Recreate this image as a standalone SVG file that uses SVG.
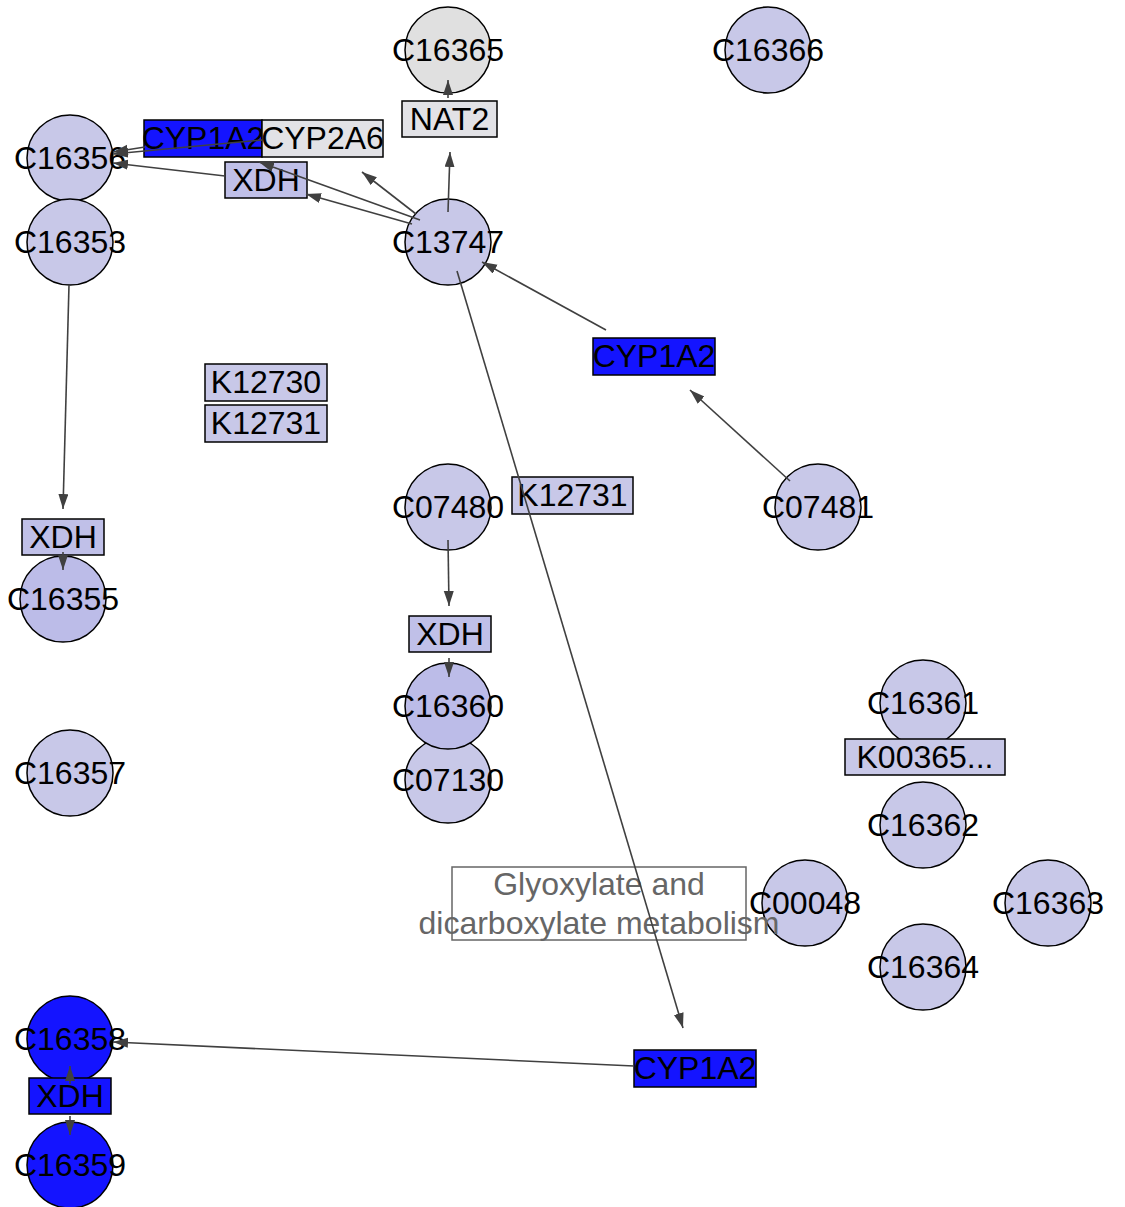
<svg xmlns="http://www.w3.org/2000/svg" width="1125" height="1207" viewBox="0 0 1125 1207">
<style>
text{font-family:"Liberation Sans",Arial,sans-serif;font-size:32px;fill:#000;text-anchor:middle}
.c{fill:#c8c8e8;stroke:#000;stroke-width:1.5}
.cd{fill:#bcbce8;stroke:#000;stroke-width:1.5}
.cg{fill:#e0e0e0;stroke:#000;stroke-width:1.5}
.cb{fill:#1414ff;stroke:#000;stroke-width:1.5}
.r{fill:#c8c8e8;stroke:#000;stroke-width:1.5}
.rd{fill:#c0c0e8;stroke:#000;stroke-width:1.5}
.rg{fill:#e2e2e6;stroke:#000;stroke-width:1.5}
.rb{fill:#1414ff;stroke:#000;stroke-width:1.5}
.e{stroke:#404040;stroke-width:1.6;fill:none;marker-end:url(#ah)}
.lbl{fill:#666}
</style>
<defs>
<marker id="ah" markerUnits="userSpaceOnUse" markerWidth="16" markerHeight="11" refX="15" refY="5" orient="auto">
<path d="M0,0 L15,5 L0,10 z" fill="#404040"/>
</marker>
</defs>
<rect width="1125" height="1207" fill="#fff"/>
<g id="nodes">
<g id="C16365"><circle class="cg" cx="448" cy="50" r="43"/><text x="448" y="61">C16365</text></g>
<g id="C16366"><circle class="c" cx="768" cy="50" r="43"/><text x="768" y="61">C16366</text></g>
<g id="C16356"><circle class="c" cx="70" cy="158" r="43"/><text x="70" y="169">C16356</text></g>
<g id="C16353"><circle class="c" cx="70" cy="242" r="43"/><text x="70" y="253">C16353</text></g>
<g id="C13747"><circle class="c" cx="448" cy="242" r="43"/><text x="448" y="253">C13747</text></g>
<g id="NAT2"><rect class="rg" x="402" y="101" width="95" height="36"/><text x="449.5" y="130">NAT2</text></g>
<g id="CYP1A2_a"><rect class="rb" x="144" y="120" width="118" height="37"/><text x="203" y="149">CYP1A2</text></g>
<g id="CYP2A6"><rect class="rg" x="262" y="120" width="121" height="37"/><text x="322.5" y="149">CYP2A6</text></g>
<g id="XDH_a"><rect class="rd" x="225" y="162" width="82" height="36"/><text x="266" y="191">XDH</text></g>
<g id="CYP1A2_b"><rect class="rb" x="593" y="338" width="122" height="37"/><text x="654" y="367">CYP1A2</text></g>
<g id="K12730"><rect class="r" x="205" y="364" width="122" height="37"/><text x="266" y="393">K12730</text></g>
<g id="K12731_a"><rect class="r" x="205" y="405" width="122" height="37"/><text x="266" y="434">K12731</text></g>
<g id="C07480"><circle class="c" cx="448" cy="507" r="43"/><text x="448" y="518">C07480</text></g>
<g id="K12731_b"><rect class="r" x="512" y="477" width="121" height="37"/><text x="572.5" y="506">K12731</text></g>
<g id="C07481"><circle class="c" cx="818" cy="507" r="43"/><text x="818" y="518">C07481</text></g>
<g id="XDH_b"><rect class="rd" x="22" y="519" width="82" height="36"/><text x="63" y="548">XDH</text></g>
<g id="C16355"><circle class="cd" cx="63" cy="599" r="43"/><text x="63" y="610">C16355</text></g>
<g id="XDH_c"><rect class="rd" x="409" y="616" width="82" height="36"/><text x="450" y="645">XDH</text></g>
<g id="C07130"><circle class="c" cx="448" cy="780" r="43"/><text x="448" y="791">C07130</text></g>
<g id="C16360"><circle class="cd" cx="448" cy="706" r="43"/><text x="448" y="717">C16360</text></g>
<g id="C16357"><circle class="c" cx="70" cy="773" r="43"/><text x="70" y="784">C16357</text></g>
<g id="C16361"><circle class="c" cx="923" cy="703" r="43"/><text x="923" y="714">C16361</text></g>
<g id="K00365"><rect class="r" x="845" y="739" width="160" height="36"/><text x="925" y="768">K00365...</text></g>
<g id="C16362"><circle class="c" cx="923" cy="825" r="43"/><text x="923" y="836">C16362</text></g>
<g id="C00048"><circle class="c" cx="805" cy="903" r="43"/><text x="805" y="914">C00048</text></g>
<g id="C16363"><circle class="c" cx="1048" cy="903" r="43"/><text x="1048" y="914">C16363</text></g>
<g id="C16364"><circle class="c" cx="923" cy="967" r="43"/><text x="923" y="978">C16364</text></g>
<g id="Glyoxylate"><rect x="452" y="867" width="294" height="73" fill="none" stroke="#666" stroke-width="1.5"/><text class="lbl" x="599" y="895">Glyoxylate and</text><text class="lbl" x="599" y="934">dicarboxylate metabolism</text></g>
<g id="C16358"><circle class="cb" cx="70" cy="1039" r="43"/><text x="70" y="1050">C16358</text></g>
<g id="XDH_d"><rect class="rb" x="29" y="1078" width="82" height="36"/><text x="70" y="1107">XDH</text></g>
<g id="C16359"><circle class="cb" cx="70" cy="1165" r="43"/><text x="70" y="1176">C16359</text></g>
<g id="CYP1A2_c"><rect class="rb" x="634" y="1050" width="122" height="37"/><text x="695" y="1079">CYP1A2</text></g>
</g>
<g id="edges">
<line class="e" x1="448" y1="212" x2="450" y2="152"/>
<line class="e" x1="448" y1="98" x2="448" y2="80"/>
<line class="e" x1="416" y1="214" x2="362" y2="172"/>
<line class="e" x1="412" y1="224" x2="306" y2="194"/>
<line class="e" x1="420" y1="220" x2="259" y2="162"/>
<line class="e" x1="262" y1="140" x2="113" y2="154"/>
<line class="e" x1="145" y1="147" x2="113" y2="152"/>
<line class="e" x1="225" y1="176" x2="113" y2="163"/>
<line class="e" x1="606" y1="330" x2="482" y2="262"/>
<line class="e" x1="790" y1="481" x2="690" y2="390"/>
<line class="e" x1="457" y1="271" x2="683" y2="1028"/>
<line class="e" x1="634" y1="1066" x2="113" y2="1042"/>
<line class="e" x1="69" y1="285" x2="63" y2="509"/>
<line class="e" x1="63" y1="552" x2="63" y2="570"/>
<line class="e" x1="448" y1="540" x2="449" y2="606"/>
<line class="e" x1="449" y1="658" x2="449" y2="677"/>
<line class="e" x1="70" y1="1084" x2="70" y2="1066"/>
<line class="e" x1="70" y1="1116" x2="70" y2="1135"/>
</g>
</svg>
